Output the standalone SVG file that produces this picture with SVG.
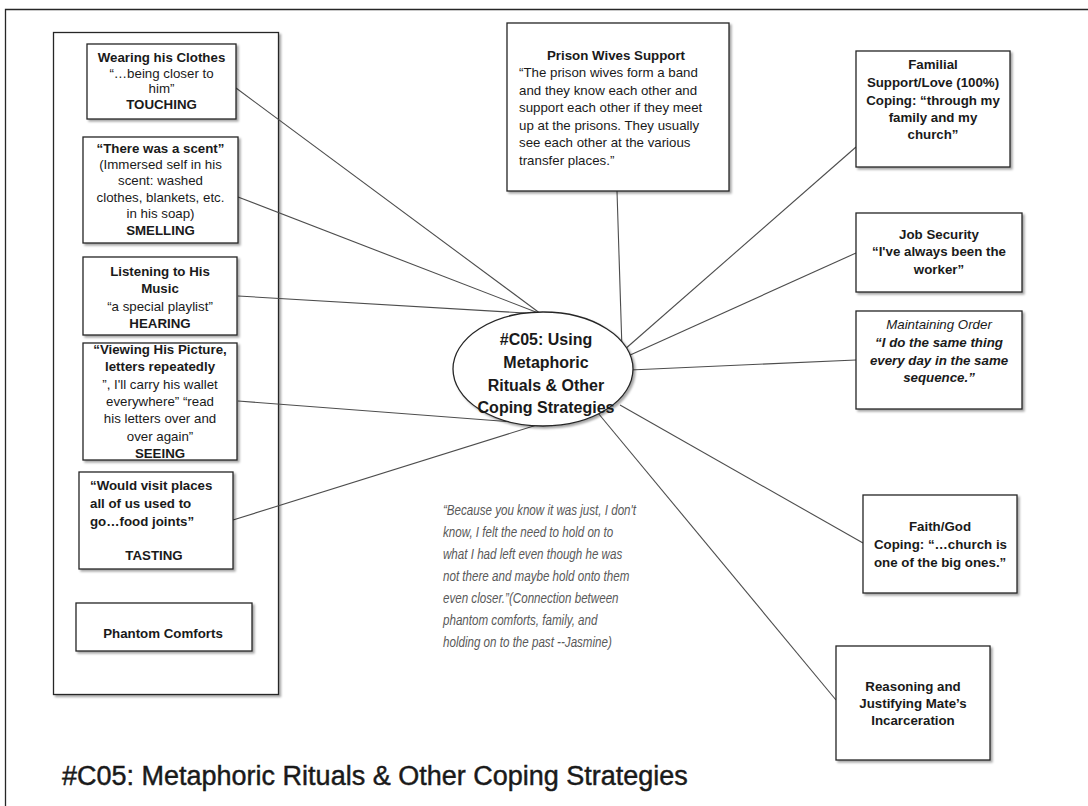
<svg xmlns="http://www.w3.org/2000/svg" width="1088" height="806" viewBox="0 0 1088 806">
<defs>
<filter id="sh" x="-10%" y="-10%" width="125%" height="125%">
<feDropShadow dx="2" dy="2" stdDeviation="1.2" flood-color="#000" flood-opacity="0.35"/>
</filter>
<style>
.box{fill:#fff;stroke:#262626;stroke-width:1.3;filter:url(#sh)}
.frame{fill:none;stroke:#262626;stroke-width:1.3}
.con{stroke:#4d4d4d;stroke-width:1.1;fill:none}
text{font-family:"Liberation Sans",Arial,sans-serif;fill:#1a1a1a;font-size:13.3px}
.c{text-anchor:middle}
.b{font-weight:bold}
.i{font-style:italic}
.q{font-style:italic;fill:#595959;font-size:14.5px}
.t{font-size:16px;font-weight:bold;text-anchor:middle}
.title{font-size:27px;stroke:#1a1a1a;stroke-width:0.45}
</style>
</defs>
<rect width="1088" height="806" fill="#fff"/>
<path class="frame" d="M5.5,806 V9.5 H1088"/>

<g id="phantom-group">
<rect class="box" x="53.5" y="32.5" width="225" height="662"/>
</g>

<g id="connectors">
<line class="con" x1="236" y1="88" x2="541" y2="314"/>
<line class="con" x1="238" y1="197" x2="541" y2="314"/>
<line class="con" x1="238" y1="296" x2="541" y2="314"/>
<line class="con" x1="238" y1="401" x2="540" y2="424"/>
<line class="con" x1="233" y1="520" x2="540" y2="424"/>
<line class="con" x1="617" y1="191" x2="622" y2="350"/>
<line class="con" x1="856" y1="147" x2="624" y2="350"/>
<line class="con" x1="856" y1="253" x2="628" y2="356"/>
<line class="con" x1="856" y1="360" x2="630" y2="370"/>
<line class="con" x1="863" y1="543" x2="620" y2="405"/>
<line class="con" x1="836" y1="700" x2="598" y2="413"/>
</g>

<g id="wearing">
<rect class="box" x="87" y="44" width="149" height="75"/>
<text class="c b" x="161.5" y="61.5">Wearing his Clothes</text>
<text class="c" x="161.5" y="77.5">“…being closer to</text>
<text class="c" x="161.5" y="92.5">him”</text>
<text class="c b" x="161.5" y="108.5">TOUCHING</text>
</g>

<g id="scent">
<rect class="box" x="83" y="137" width="155" height="106"/>
<text class="c b" x="160.5" y="152.5">“There was a scent”</text>
<text class="c" x="160.5" y="168.5">(Immersed self in his</text>
<text class="c" x="160.5" y="185">scent: washed</text>
<text class="c" x="160.5" y="201.5">clothes, blankets, etc.</text>
<text class="c" x="160.5" y="217.5">in his soap)</text>
<text class="c b" x="160.5" y="235">SMELLING</text>
</g>

<g id="music">
<rect class="box" x="83" y="257" width="154" height="78"/>
<text class="c b" x="160" y="275.5">Listening to His</text>
<text class="c b" x="160" y="292.5">Music</text>
<text class="c" x="160" y="310.5">“a special playlist”</text>
<text class="c b" x="160" y="327.5">HEARING</text>
</g>

<g id="viewing">
<rect class="box" x="83" y="343" width="154" height="117"/>
<text class="c b" x="160" y="353.5">“Viewing His Picture,</text>
<text class="c b" x="160" y="370.5">letters repeatedly</text>
<text class="c" x="160" y="388.5">”, I'll carry his wallet</text>
<text class="c" x="160" y="405.5">everywhere” “read</text>
<text class="c" x="160" y="422.5">his letters over and</text>
<text class="c" x="160" y="440.5">over again”</text>
<text class="c b" x="160" y="457.5">SEEING</text>
</g>

<g id="tasting">
<rect class="box" x="79" y="472" width="154" height="97"/>
<text class="b" x="90" y="489.5">“Would visit places</text>
<text class="b" x="90" y="507.5">all of us used to</text>
<text class="b" x="90" y="525.5">go…food joints”</text>
<text class="c b" x="154" y="559.5">TASTING</text>
</g>

<g id="phantom-comforts">
<rect class="box" x="76" y="603" width="176" height="48"/>
<text class="c b" x="163" y="637.5">Phantom Comforts</text>
</g>

<g id="prison">
<rect class="box" x="507" y="23" width="222" height="168"/>
<text class="c b" x="616" y="59.5">Prison Wives Support</text>
<text x="519" y="77">“The prison wives form a band</text>
<text x="519" y="94.5">and they know each other and</text>
<text x="519" y="112">support each other if they meet</text>
<text x="519" y="129.5">up at the  prisons. They usually</text>
<text x="519" y="146.5">see each other at the various</text>
<text x="519" y="164.5">transfer places.”</text>
</g>

<g id="familial">
<rect class="box" x="856" y="51" width="154" height="116"/>
<text class="c b" x="933" y="68.5">Familial</text>
<text class="c b" x="933" y="86.5">Support/Love (100%)</text>
<text class="c b" x="933" y="104.5">Coping: “through my</text>
<text class="c b" x="933" y="121.5">family and my</text>
<text class="c b" x="933" y="138.5">church”</text>
</g>

<g id="job">
<rect class="box" x="856" y="213" width="166" height="79"/>
<text class="c b" x="939" y="238.5">Job Security</text>
<text class="c b" x="939" y="255.5">“I've always been the</text>
<text class="c b" x="939" y="273.5">worker”</text>
</g>

<g id="order">
<rect class="box" x="856" y="311" width="166" height="98"/>
<text class="c i" x="939" y="328.5">Maintaining Order</text>
<text class="c b i" x="939" y="346.5">“I do the same thing</text>
<text class="c b i" x="939" y="364.5">every day in the same</text>
<text class="c b i" x="939" y="381.5">sequence.”</text>
</g>

<g id="faith">
<rect class="box" x="863" y="495" width="154" height="98"/>
<text class="c b" x="940" y="530.5">Faith/God</text>
<text class="b" x="874" y="548.5">Coping: “…church is</text>
<text class="b" x="874" y="566.5">one of the big ones.”</text>
</g>

<g id="reasoning">
<rect class="box" x="836" y="646" width="154" height="114"/>
<text class="c b" x="913" y="690.5">Reasoning and</text>
<text class="c b" x="913" y="707.5">Justifying Mate’s</text>
<text class="c b" x="913" y="724.5">Incarceration</text>
</g>

<g id="center">
<ellipse cx="543" cy="369" rx="90" ry="57" fill="#fff" stroke="#262626" stroke-width="1.3" filter="url(#sh)"/>
<text class="t" x="546" y="345">#C05: Using</text>
<text class="t" x="546" y="368">Metaphoric</text>
<text class="t" x="546" y="391">Rituals &amp; Other</text>
<text class="t" x="546" y="413">Coping Strategies</text>
</g>

<g id="quote" transform="translate(443,0) scale(0.8,1)">
<text class="q" x="0" y="515">“Because you know it was just, I don't</text>
<text class="q" x="0" y="537">know, I felt the need to hold on to</text>
<text class="q" x="0" y="559">what I had left even though he was</text>
<text class="q" x="0" y="581">not there and maybe hold onto them</text>
<text class="q" x="0" y="603">even closer.”(Connection between</text>
<text class="q" x="0" y="625">phantom comforts, family, and</text>
<text class="q" x="0" y="647">holding on to the past --Jasmine)</text>
</g>

<g id="title">
<text class="title" x="62" y="785">#C05: Metaphoric Rituals &amp; Other Coping Strategies</text>
</g>
</svg>
